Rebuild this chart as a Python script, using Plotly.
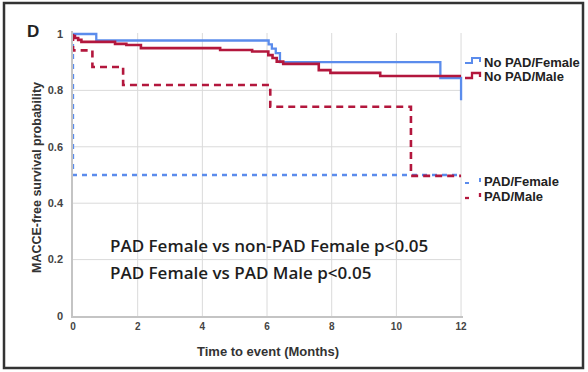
import plotly.graph_objects as go

# ---- data ----
nopad_f_t = [0, 0.72, 6.05, 6.15, 6.27, 6.4, 11.36, 12.0]
nopad_f_s = [1.0, 0.977, 0.963, 0.948, 0.932, 0.900, 0.844, 0.765]

nopad_m_t = [0, 0.06, 0.16, 0.26, 1.3, 1.65, 2.1, 4.55, 5.54, 6.04, 6.17, 6.3, 6.5, 7.6, 7.96, 9.5, 12.0]
nopad_m_s = [0.993, 0.986, 0.979, 0.972, 0.965, 0.961, 0.950, 0.943, 0.938, 0.925, 0.915, 0.902, 0.894, 0.872, 0.862, 0.851, 0.851]

pad_f_t = [0, 0.0, 12.0]
pad_f_s = [1.0, 0.5, 0.5]

pad_m_t = [0, 0.0, 0.6, 1.55, 6.1, 10.45, 12.0]
pad_m_s = [1.0, 0.942, 0.883, 0.819, 0.742, 0.497, 0.497]

x_ticks = [0, 2, 4, 6, 8, 10, 12]
y_ticks = [0, 0.2, 0.4, 0.6, 0.8, 1.0]
y_tick_text = ["0", "0.2", "0.4", "0.6", "0.8", "1"]

legend_names = ["No PAD/Female", "No PAD/Male", "PAD/Female", "PAD/Male"]
stat_lines = ["PAD Female vs non-PAD Female p<0.05", "PAD Female vs PAD Male p<0.05"]

BLUE = "#5b8cec"
RED = "#b3173d"

# ---- layout geometry (pixels) ----
W, H = 588, 372
L, B = 73, 316
PW, PH = 390, 285
XR = [0, 12.06]
YR = [0, 1.0106]


def px(x):
    return (x - L) / PW


def py(y):
    return (B - y) / PH


fig = go.Figure()

fig.add_trace(go.Scatter(x=pad_f_t, y=pad_f_s, mode="lines", line_shape="hv",
                         line=dict(color=BLUE, width=2.3, dash="5px,5px"), showlegend=False))
fig.add_trace(go.Scatter(x=nopad_f_t, y=nopad_f_s, mode="lines", line_shape="hv",
                         line=dict(color=BLUE, width=2.3), showlegend=False))
fig.add_trace(go.Scatter(x=nopad_m_t, y=nopad_m_s, mode="lines", line_shape="hv",
                         line=dict(color=RED, width=2.6), showlegend=False))
fig.add_trace(go.Scatter(x=pad_m_t, y=pad_m_s, mode="lines", line_shape="hv",
                         line=dict(color=RED, width=2.6, dash="7px,5px"), showlegend=False))

shapes = []
# horizontal gridlines
for v in y_ticks[1:-1]:
    shapes.append(dict(type="line", xref="x", yref="y", x0=0, x1=12, y0=v, y1=v,
                       line=dict(color="#dadada", width=1), layer="below"))
# vertical gridlines
for v in x_ticks[1:]:
    shapes.append(dict(type="line", xref="x", yref="paper", x0=v, x1=v, y0=0, y1=py(33),
                       line=dict(color="#dadada", width=1), layer="below"))
# outer frame
shapes.append(dict(type="rect", xref="paper", yref="paper", x0=px(4), x1=px(583), y0=py(368), y1=py(3),
                   line=dict(color="#333333", width=2.5)))

# legend icons
def path(points):
    d = "M " + " L ".join(f"{px(a):.5f},{py(b):.5f}" for a, b in points)
    return d

shapes.append(dict(type="path", xref="paper", yref="paper",
                   path=path([(465, 63), (472, 63), (472, 58), (480, 58), (480, 62)]),
                   line=dict(color=BLUE, width=2)))
shapes.append(dict(type="path", xref="paper", yref="paper",
                   path=path([(465, 78), (472, 78), (472, 73), (480, 73), (480, 77)]),
                   line=dict(color=RED, width=2.3)))
# dashed icons
shapes.append(dict(type="line", xref="paper", yref="paper", x0=px(465), x1=px(469), y0=py(183), y1=py(183),
                   line=dict(color=BLUE, width=2)))
shapes.append(dict(type="line", xref="paper", yref="paper", x0=px(480), x1=px(480), y0=py(178), y1=py(182),
                   line=dict(color=BLUE, width=2)))
shapes.append(dict(type="line", xref="paper", yref="paper", x0=px(465), x1=px(469), y0=py(198), y1=py(198),
                   line=dict(color=RED, width=2.3)))
shapes.append(dict(type="line", xref="paper", yref="paper", x0=px(480), x1=px(480), y0=py(193), y1=py(197),
                   line=dict(color=RED, width=2.3)))

annotations = []
legend_y = [62, 77, 181, 196]
for name, yy in zip(legend_names, legend_y):
    annotations.append(dict(x=px(482), y=py(yy), xref="paper", yref="paper", text=name,
                            showarrow=False, xanchor="left", yanchor="middle",
                            font=dict(family="Arial", size=13, color="#222222", weight="bold")))
for txt, yy in zip(stat_lines, [245, 272]):
    annotations.append(dict(x=px(108), y=py(yy), xref="paper", yref="paper", text=txt,
                            showarrow=False, xanchor="left", yanchor="middle",
                            font=dict(family="Open Sans", size=17, color="#1e1e1e", weight=600)))
annotations.append(dict(x=px(33), y=py(31), xref="paper", yref="paper", text="D", showarrow=False,
                        xanchor="center", yanchor="middle",
                        font=dict(family="Arial", size=17, color="#222222", weight="bold")))
annotations.append(dict(x=px(268), y=py(351), xref="paper", yref="paper", text="Time to event (Months)",
                        showarrow=False, xanchor="center", yanchor="middle",
                        font=dict(family="Arial", size=13, color="#333333", weight="bold")))
annotations.append(dict(x=px(37), y=py(178), xref="paper", yref="paper", text="MACCE-free survival probability",
                        showarrow=False, xanchor="center", yanchor="middle", textangle=-90,
                        font=dict(family="Arial", size=12.5, color="#333333", weight="bold")))

fig.update_layout(
    width=W, height=H,
    margin=dict(l=L, r=W - L - PW, t=B - PH, b=H - B, pad=0),
    paper_bgcolor="white", plot_bgcolor="white",
    shapes=shapes, annotations=annotations, showlegend=False,
    xaxis=dict(range=XR, tickvals=x_ticks, ticktext=[str(v) for v in x_ticks], showgrid=False,
               zeroline=False, showline=True, linecolor="#c4c4c4", linewidth=1.5, ticks="",
               tickfont=dict(family="Arial", size=10, color="#444444", weight="bold"), fixedrange=True),
    yaxis=dict(range=YR, tickvals=y_ticks, ticktext=y_tick_text, showgrid=False,
               zeroline=False, showline=True, linecolor="#c4c4c4", linewidth=1.5, ticks="",
               ticklabelstandoff=6,
               tickfont=dict(family="Arial", size=11, color="#444444", weight="bold"), fixedrange=True),
)

fig.write_html("out.html")
